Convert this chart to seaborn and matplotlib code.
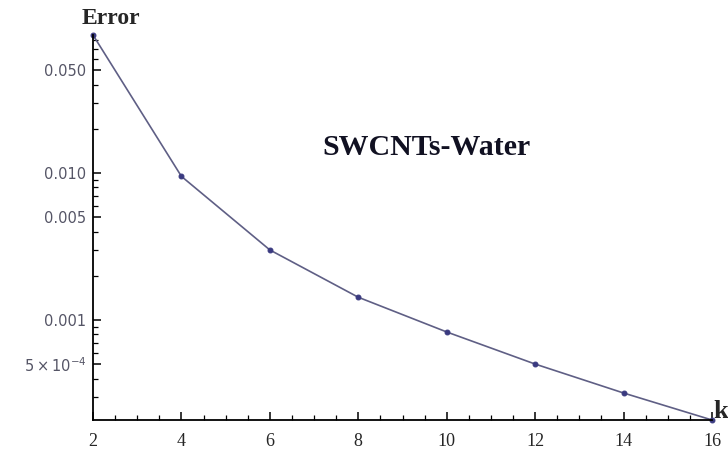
import matplotlib
matplotlib.use("Agg")
import matplotlib.pyplot as plt
import matplotlib.ticker as mticker
import numpy as np
import pandas as pd
import seaborn as sns

# Truncation order k and the corresponding error
k_values = [2, 4, 6, 8, 10, 12, 14, 16]
errors = [0.087, 0.0095, 0.0030, 0.00143, 0.00083, 0.000502, 0.000319, 0.000209]

y_ticks = [0.05, 0.01, 0.005, 0.001, 0.0005]
y_tick_labels = ["0.050", "0.010", "0.005", "0.001", r"$5\times10^{-4}$"]
x_ticks = [2, 4, 6, 8, 10, 12, 14, 16]

sns.set_theme(style="white")
plt.rcParams["font.family"] = ["DejaVu Sans"]
plt.rcParams["mathtext.fontset"] = "dejavusans"

df = pd.DataFrame({"k": k_values, "Error": errors})

fig = plt.figure(figsize=(7.28, 4.58), dpi=100)
ax = fig.add_axes([93 / 728, 1 - 420 / 458, (712 - 93) / 728, (420 - 35) / 458])

sns.lineplot(data=df, x="k", y="Error", ax=ax, color="#5f5f85", linewidth=1.2,
             marker="o", markersize=3.5, markerfacecolor="#3a3a80",
             markeredgecolor="#3a3a80", clip_on=False)

ax.set_yscale("log")
ax.set_xlim(2, 16)
ax.set_ylim(0.000209, 0.087)

ax.set_yticks(y_ticks)
ax.set_yticklabels(y_tick_labels)
ax.yaxis.set_minor_locator(mticker.LogLocator(base=10, subs=np.arange(2, 10)))
ax.yaxis.set_minor_formatter(mticker.NullFormatter())

ax.set_xticks(x_ticks)
ax.set_xticklabels([str(v) for v in x_ticks])
ax.xaxis.set_minor_locator(mticker.MultipleLocator(0.5))

for s in ["top", "right"]:
    ax.spines[s].set_visible(False)
for s in ["left", "bottom"]:
    ax.spines[s].set_color("black")
    ax.spines[s].set_linewidth(1.3)

ax.tick_params(axis="both", which="major", direction="in", length=6, width=1.1,
               color="black")
ax.tick_params(axis="both", which="minor", direction="in", length=3.5, width=0.9,
               color="black")
ax.tick_params(axis="y", which="both", left=True, labelsize=10.5,
               labelcolor="#555566", pad=5)
ax.tick_params(axis="x", which="both", bottom=True, labelsize=13, pad=9)
for lbl in ax.get_xticklabels():
    lbl.set_family("Liberation Serif")

ax.set_xlabel("")
ax.set_ylabel("")

fig.text(82 / 728, 1 - 18 / 458, "Error", family="Liberation Serif",
         fontweight="bold", fontsize=17, ha="left", va="center")
fig.text(713 / 728, 1 - 411 / 458, "k", family="Liberation Serif",
         fontweight="bold", fontsize=19, ha="left", va="center")
ax.text(0.538, 0.709, "SWCNTs-Water", transform=ax.transAxes,
        family="Liberation Serif", fontweight="bold", fontsize=21.5,
        ha="center", va="center", color="#111122")

fig.savefig("out.png", dpi=100)
